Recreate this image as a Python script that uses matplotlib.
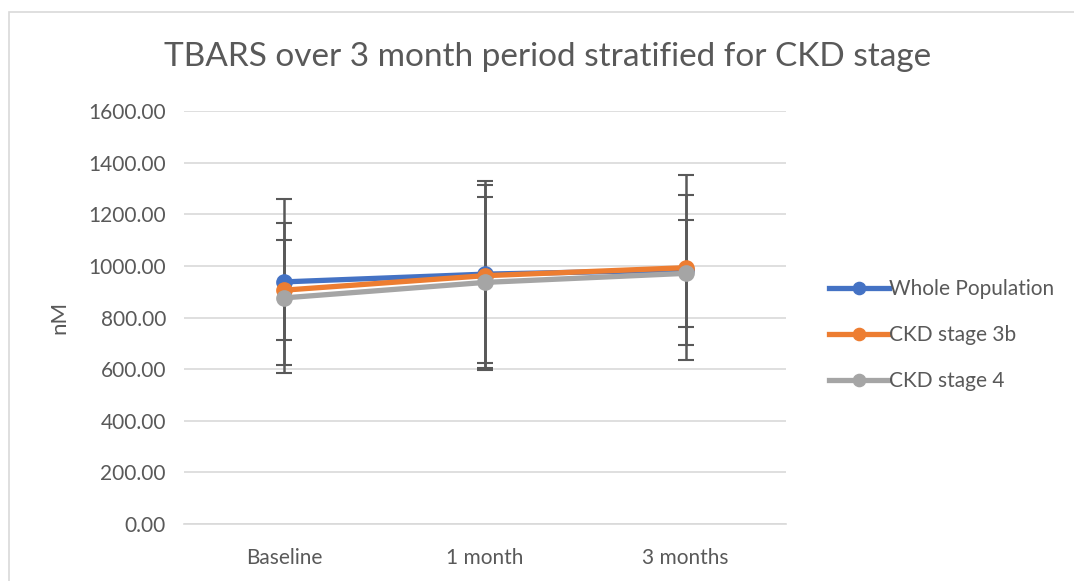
import matplotlib.pyplot as plt
from matplotlib.patches import Rectangle

# data
categories = ["Baseline", "1 month", "3 months"]
series_names = ["Whole Population", "CKD stage 3b", "CKD stage 4"]
whole_mean = [938, 968, 984]
whole_err = [321, 344, 292]
stage3b_mean = [906, 962, 993]
stage3b_err = [195, 366, 359]
stage4_mean = [876, 936, 971]
stage4_err = [290, 330, 206]
yticks = [0, 200, 400, 600, 800, 1000, 1200, 1400, 1600]

colors = ["#4472C4", "#ED7D31", "#A5A5A5"]
text_col = "#595959"
font = ["Lato", "DejaVu Sans"]

fig = plt.figure(figsize=(10.74, 5.81), dpi=100)
W, H = 1074, 581
# chart area border
fig.patches.append(Rectangle((9 / W, -0.1), 1.2, 1 - 12 / H + 0.1, transform=fig.transFigure,
                             fill=False, edgecolor="#D9D9D9", linewidth=1.2))

ax = fig.add_axes([184 / W, 1 - 524 / H, (786 - 184) / W, (524 - 111) / H])
x = list(range(len(categories)))

for name, m, e, c in zip(series_names, [whole_mean, stage3b_mean, stage4_mean],
                         [whole_err, stage3b_err, stage4_err], colors):
    ax.errorbar(x, m, yerr=e, fmt="none", ecolor="#595959", elinewidth=1.8,
                capsize=6, capthick=1.5, zorder=2)
for name, m, c in zip(series_names, [whole_mean, stage3b_mean, stage4_mean], colors):
    ax.plot(x, m, color=c, linewidth=3.8, marker="o", markersize=11,
            label=name, zorder=3)

ax.set_xlim(-0.5, 2.5)
ax.set_ylim(0, 1600)
ax.set_yticks(yticks)
ax.set_yticklabels([f"{v:.2f}" for v in yticks], family=font, fontsize=15, color=text_col)
ax.set_xticks(x)
ax.set_xticklabels(categories, family=font, fontsize=15, color=text_col)
ax.tick_params(length=0)
ax.tick_params(axis="y", pad=13)
ax.tick_params(axis="x", pad=17)
ax.grid(axis="y", color="#D9D9D9", linewidth=1.2)
ax.set_axisbelow(True)
for s in ["top", "right", "left"]:
    ax.spines[s].set_visible(False)
ax.spines["bottom"].set_color("#D9D9D9")
ax.spines["bottom"].set_linewidth(1.2)

ax.set_ylabel("nM", family=font, fontsize=16, color=text_col, labelpad=14)

fig.text(548 / W, 1 - 57 / H, "TBARS over 3 month period stratified for CKD stage",
         ha="center", va="center", family=font, fontsize=24, color=text_col)

leg = ax.legend(loc="center left", bbox_to_anchor=(1.04, 0.458), frameon=False,
                prop={"family": font, "size": 15}, labelspacing=1.25,
                handlelength=2.9, handletextpad=0.0, markerscale=0.8)
for t in leg.get_texts():
    t.set_color(text_col)

fig.savefig("out.png", dpi=100)
